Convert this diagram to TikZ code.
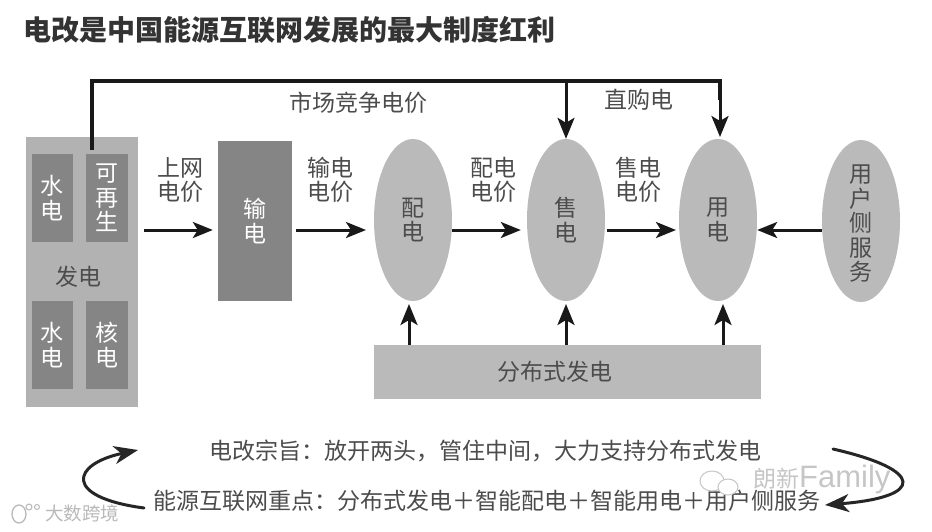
\documentclass[tikz,border=0pt]{standalone}
\usepackage{fontspec}
\setmainfont{Noto Sans CJK SC}
\setsansfont{Liberation Sans}
\usetikzlibrary{arrows.meta,shapes.geometric,calc}
\definecolor{lightg}{gray}{0.70}
\definecolor{midg}{gray}{0.52}
\definecolor{ovalg}{gray}{0.73}
\definecolor{txtg}{gray}{0.30}
\tikzset{
  x=1pt,y=-1pt,
  fs/.style={font=\fontsize{23}{24.5}\selectfont},
  lbl/.style={fs,text=txtg,align=center,inner sep=0pt},
  wlbl/.style={fs,text=white,align=center,inner sep=0pt},
  inbox/.style={fill=midg,draw=none,inner sep=0pt,minimum width=42pt,minimum height=88pt,wlbl},
  oval/.style={ellipse,fill=ovalg,draw=none,inner sep=0pt,minimum width=78pt,minimum height=162pt},
  conn/.style={line width=3pt,draw=black!90,-{Stealth[length=20pt,width=16pt,inset=5pt]}},
  upconn/.style={line width=3pt,draw=black!90,-{Stealth[length=21pt,width=17pt,inset=5pt]}},
  loopconn/.style={line width=3pt,draw=black!85,line cap=round,-{Stealth[length=24pt,width=18pt,inset=7pt]}},
  bottomtxt/.style={inner sep=0pt,text=txtg,font=\fontsize{23}{26}\selectfont},
  wm/.style={text=gray!45,inner sep=0pt,anchor=west}
}
\begin{document}
\begin{tikzpicture}
\useasboundingbox (0,0) rectangle (932,531);
\fill[white] (0,0) rectangle (932,531);
% title
\node[anchor=west,inner sep=0pt,text=black!80,font=\fontsize{28}{32}\selectfont\bfseries] (title) at (23,30) {电改是中国能源互联网发展的最大制度红利};
% generation panel
\node[fill=lightg,inner sep=0pt,minimum width=112pt,minimum height=270pt] (gen) at (81.5,272) {};
\node[inbox,minimum width=41pt] (g1) at (52,198) {水\\电};
\node[inbox] (g2) at (107,198) {可\\再\\生};
\node[inbox,minimum width=41pt] (g3) at (52,345) {水\\电};
\node[inbox] (g4) at (107,345) {核\\电};
\node[lbl] (fadian) at (78,277) {发电};
% transmission
\node[fill=midg,inner sep=0pt,minimum width=74pt,minimum height=160pt,wlbl] (shu) at (255,221) {输\\电};
% ovals
\node[oval,label={[lbl]center:配\\电}] (pei) at (413,220) {};
\node[oval,label={[lbl]center:售\\电}] (shou) at (566,220) {};
\node[oval,label={[lbl]center:用\\电}] (yong) at (718,220) {};
\node[oval,label={[lbl,yshift=-3pt]center:用\\户\\侧\\服\\务}] (user) at (861,221) {};
% distributed
\node[fill=ovalg,inner sep=0pt,minimum width=387pt,minimum height=54pt,label={[lbl,xshift=-12pt]center:分布式发电}] (dist) at (567,372) {};
% price labels
\node[lbl] (p1) at (180,180) {上网\\电价};
\node[lbl] (p2) at (330,180) {输电\\电价};
\node[lbl] (p3) at (493,180) {配电\\电价};
\node[lbl] (p4) at (638,180) {售电\\电价};
\node[lbl] (mkt) at (358,103) {市场竞争电价};
\node[lbl] (direct) at (639,100) {直购电};
% horizontal arrows
\coordinate (a1) at (144,230);
\coordinate (a2) at (296,230);
\coordinate (a3) at (607,230);
\draw[conn,shorten >=5pt] (a1) -- (shu.west |- a1);
\draw[conn] (a2) -- (366,230);
\draw[conn,shorten >=6pt] (pei.east |- a1) -- (shou.west |- a1);
\draw[conn] (a3) -- (676,230);
\draw[conn] (user.west |- a1) -- (yong.east |- a1);
% market line
\coordinate (start) at (92,150);
\coordinate (top1) at (92,81);
\coordinate (top2) at (566,81);
\coordinate (top3) at (720,81);
\draw[line width=3.4pt,black!90,line join=miter] (start) -- (top1) -- (top3) -- (720,100);
\draw[upconn] (top2) -- (shou.north);
\draw[upconn] (top3) -- (720,137);
% up arrows
\draw[upconn] (dist.north -| 409,0) -- (409,304);
\draw[upconn] (dist.north -| 566,0) -- (566,304);
\draw[upconn] (dist.north -| 723,0) -- (723,304);
% bottom text
\node[bottomtxt] (t1) at (485,451) {电改宗旨：放开两头，管住中间，大力支持分布式发电};
\node[bottomtxt] (t2) at (487,501) {能源互联网重点：分布式发电＋智能配电＋智能用电＋用户侧服务};
% loop arrows
\draw[loopconn] (144,508) .. controls (62,497) and (72,464) .. (138,450);
\draw[loopconn] (833,449) .. controls (925,470) and (925,497) .. (825,505);
% watermarks
\node[wm,font=\fontsize{23}{25}\selectfont] (wm1) at (753,479) {朗新\textsf{\fontsize{31}{32}\selectfont Family}};
\node[wm,text=gray!55,font=\fontsize{18.5}{20}\selectfont] (wm2) at (45,513) {大数跨境};
\draw[gray!45,line width=1pt] (712,481) ellipse (12 and 10);
\draw[gray!45,line width=1pt,fill=white] (728,487) ellipse (10 and 8);
\draw[gray!55,line width=1.3pt] (19,514) ellipse (7 and 9);
\draw[gray!55,line width=1pt] (29,507) circle (3);
\draw[gray!55,line width=1pt] (37,507) circle (2.5);
\end{tikzpicture}
\end{document}
